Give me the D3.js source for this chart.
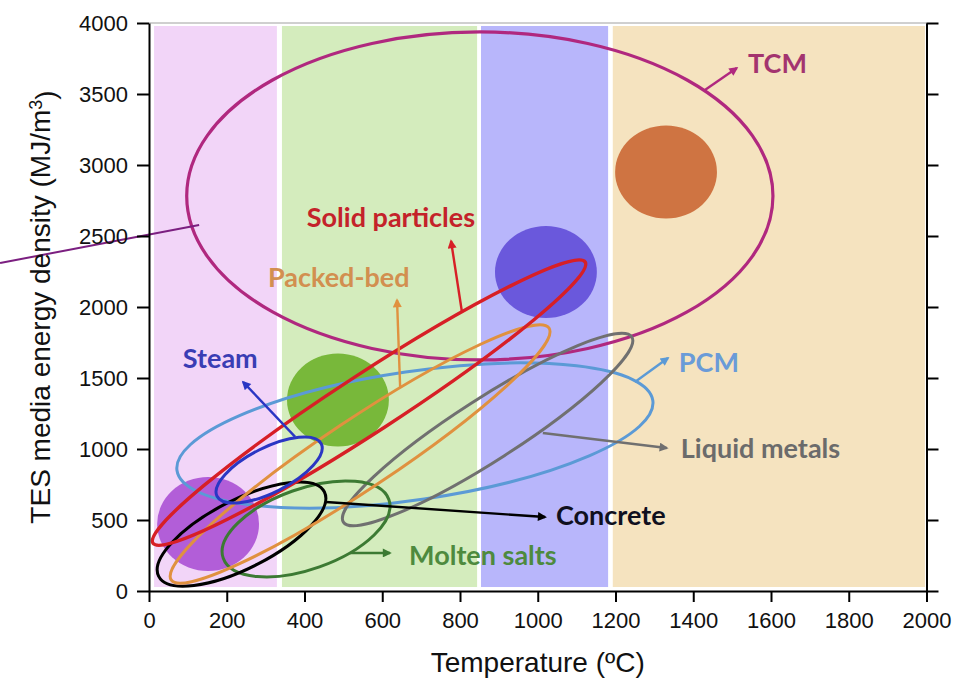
<!DOCTYPE html>
<html><head><meta charset="utf-8">
<script src="https://cdn.jsdelivr.net/npm/d3@7"></script>
<style>body{margin:0;background:#fff}</style>
</head><body>
<svg id="chart" width="961" height="684"></svg>
<script>
// ---- axes ----
const xTicks = [0, 200, 400, 600, 800, 1000, 1200, 1400, 1600, 1800, 2000];
const yTicks = [0, 500, 1000, 1500, 2000, 2500, 3000, 3500, 4000];
const xTitle = "Temperature (\u00BAC)";
const yTitle = "TES media energy density (MJ/m";

// ---- temperature bands (°C) ----
const bandStart = [13, 342, 854, 1193];
const bandEnd = [329, 844, 1181, 1996];
const bandTop = 3979, bandBottom = 28;
const bandColors = ["#f2d5f8", "#d4ecbd", "#b8b6fb", "#f5e3bf"];

// ---- filled blobs ----
const blobT = [152, 486, 1021, 1330];
const blobE = [472, 1345, 2246, 2951];
const blobRT = [131, 131, 131, 131];
const blobRE = [331, 327, 324, 328];
const blobColors = ["#b25ed8", "#78b83a", "#6a58dc", "#cf7442"];

// ---- media ellipses ----
const media = ["TCM", "PCM", "Liquid metals", "Molten salts", "Concrete", "Packed-bed", "Solid particles", "Steam"];
const centreT = [851, 684, 871, 404, 238, 543, 566, 309];
const centreE = [2782, 1095, 1137, 437, 401, 965, 1327, 852];
const vertexT = [1605, 1296, 1242, 617, 451, 1029, 1122, 443];
const vertexE = [2782, 1342, 1789, 644, 699, 1852, 2317, 1037];
const coVertexT = [851, 660, 828, 369, 198, 494, 525, 283];
const coVertexE = [3937, 1542, 1321, 704, 615, 1169, 1499, 993];
const lineColors = ["#b0287f", "#5b9ad6", "#707070", "#3c7a33", "#000000", "#e0913f", "#d71f26", "#2a36c4"];
const lineWidths = [3.2, 3, 3, 3, 3, 3, 3.4, 3];

// ---- callout arrows ----
const arrowFromT = [1430, 1250, 1013, 517, 455, 646, 805, 376];
const arrowFromE = [3528, 1472, 1113, 268, 627, 1437, 1965, 1085];
const arrowToT = [1512, 1335, 1332, 620, 1019, 638, 777, 242];
const arrowToE = [3683, 1641, 1007, 268, 521, 2049, 2465, 1472];

// ---- labels ----
const labelT = [1541, 1363, 1368, 669, 1047, 306, 406, 87];
const labelE = [3648, 1542, 937, 183, 465, 2141, 2563, 1570];
const labelColors = ["#a3346f", "#6a9bd8", "#6b6b6b", "#4e8a3e", "#10101e", "#d28f50", "#c4222a", "#3a3db4"];

// ---- pointer line from outside ----
const pointerT = [-383, 129];
const pointerE = [2310, 2577];

const svg = d3.select("#chart");
const x = d3.scaleLinear().domain([0, 2000]).range([149, 926.5]);
const y = d3.scaleLinear().domain([0, 4000]).range([591, 23]);

// bands
svg.append("g").selectAll("rect").data(bandStart).join("rect")
  .attr("x", (d, i) => x(d))
  .attr("width", (d, i) => x(bandEnd[i]) - x(d))
  .attr("y", y(bandTop))
  .attr("height", y(bandBottom) - y(bandTop))
  .attr("fill", (d, i) => bandColors[i]);

// top frame line
svg.append("line")
  .attr("x1", x(0)).attr("x2", x(2000)).attr("y1", y(4000)).attr("y2", y(4000))
  .attr("stroke", "#a0a0a0").attr("stroke-width", 1);

// blobs
svg.append("g").selectAll("ellipse").data(blobT).join("ellipse")
  .attr("cx", d => x(d))
  .attr("cy", (d, i) => y(blobE[i]))
  .attr("rx", (d, i) => x(d + blobRT[i]) - x(d))
  .attr("ry", (d, i) => y(blobE[i]) - y(blobE[i] + blobRE[i]))
  .attr("fill", (d, i) => blobColors[i]);

// markers
const defs = svg.append("defs");
lineColors.forEach((c, i) => {
  defs.append("marker")
    .attr("id", "ah" + i)
    .attr("viewBox", "0 0 10 10")
    .attr("refX", 8).attr("refY", 5)
    .attr("markerWidth", 11).attr("markerHeight", 9)
    .attr("markerUnits", "userSpaceOnUse")
    .attr("orient", "auto")
    .append("path").attr("d", "M0,0L10,5L0,10Z").attr("fill", c);
});

// ellipses
const eg = svg.append("g").attr("fill", "none");
media.forEach((m, i) => {
  const cx = x(centreT[i]), cy = y(centreE[i]);
  const vx = x(vertexT[i]) - cx, vy = y(vertexE[i]) - cy;
  const rx = Math.hypot(vx, vy);
  const ry = Math.hypot(x(coVertexT[i]) - cx, y(coVertexE[i]) - cy);
  const ang = Math.atan2(vy, vx) * 180 / Math.PI;
  eg.append("ellipse")
    .attr("cx", cx).attr("cy", cy).attr("rx", rx).attr("ry", ry)
    .attr("transform", `rotate(${ang},${cx},${cy})`)
    .attr("stroke", lineColors[i]).attr("stroke-width", lineWidths[i]);
});

// arrows
const ag = svg.append("g");
media.forEach((m, i) => {
  ag.append("line")
    .attr("x1", x(arrowFromT[i])).attr("y1", y(arrowFromE[i]))
    .attr("x2", x(arrowToT[i])).attr("y2", y(arrowToE[i]))
    .attr("stroke", lineColors[i]).attr("stroke-width", 2.4)
    .attr("marker-end", `url(#ah${i})`);
});

// pointer line
svg.append("line")
  .attr("x1", x(pointerT[0])).attr("y1", y(pointerE[0]))
  .attr("x2", x(pointerT[1])).attr("y2", y(pointerE[1]))
  .attr("stroke", "#7b1f80").attr("stroke-width", 2);

// labels
svg.append("g").selectAll("text").data(media).join("text")
  .attr("x", (d, i) => x(labelT[i]))
  .attr("y", (d, i) => y(labelE[i]))
  .attr("fill", (d, i) => labelColors[i])
  .style("font-family", "Lato, 'Open Sans', sans-serif")
  .style("font-weight", "bold")
  .style("font-size", "27px")
  .text(d => d);

// axes
const axFont = "'Liberation Sans', Arial, sans-serif";
const styleAxis = g => {
  g.selectAll("path").attr("stroke", "#000").attr("stroke-width", 2);
  g.selectAll("line").attr("stroke", "#000").attr("stroke-width", 2);
  g.selectAll("text").style("font-family", axFont).style("font-size", "22px").attr("fill", "#111");
};
svg.append("g").attr("transform", `translate(0,${y(0)})`)
  .call(d3.axisBottom(x).tickValues(xTicks).tickSize(11).tickSizeOuter(0).tickPadding(10).tickFormat(d3.format("d")))
  .call(styleAxis);
svg.append("g").attr("transform", `translate(${x(0)},0)`)
  .call(d3.axisLeft(y).tickValues(yTicks).tickSize(12).tickSizeOuter(0).tickPadding(9).tickFormat(d3.format("d")))
  .call(styleAxis);
svg.append("g").attr("transform", `translate(${x(2000)},0)`)
  .call(d3.axisRight(y).tickValues(yTicks).tickSize(12).tickSizeOuter(0).tickFormat(""))
  .call(styleAxis);

// titles
svg.append("text")
  .attr("x", (x(0) + x(2000)) / 2 + 0).attr("y", 672)
  .attr("text-anchor", "middle")
  .style("font-family", axFont).style("font-size", "28px").attr("fill", "#111")
  .text(xTitle);
const yt = svg.append("text")
  .attr("transform", `translate(50,${(y(0) + y(4000)) / 2}) rotate(-90)`)
  .attr("text-anchor", "middle")
  .style("font-family", axFont).style("font-size", "28px").attr("fill", "#111");
yt.append("tspan").text(yTitle);
yt.append("tspan").attr("dy", "-0.45em").style("font-size", "18px").text("3");
yt.append("tspan").attr("dy", "0.45em").text(")");
</script>
</body></html>
